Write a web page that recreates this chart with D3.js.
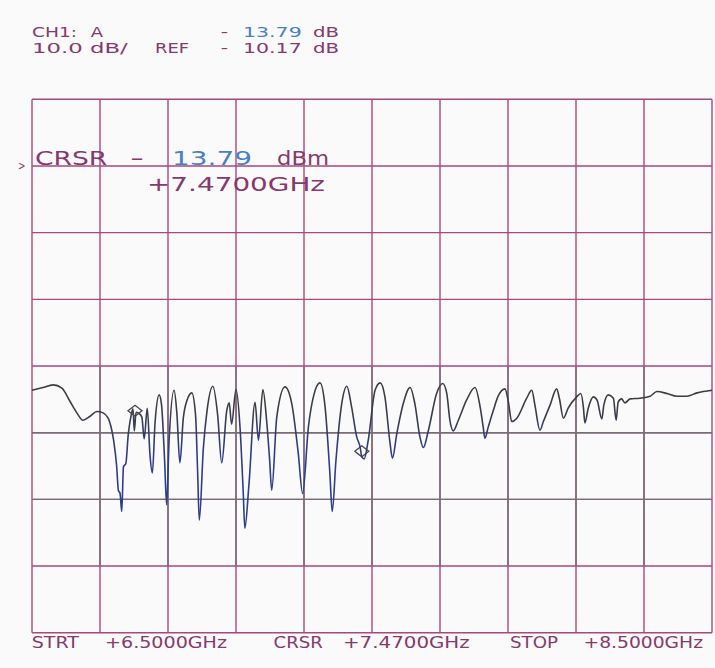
<!DOCTYPE html>
<html>
<head>
<meta charset="utf-8">
<script src="https://cdn.jsdelivr.net/npm/d3@7/dist/d3.min.js"></script>
<style>
  html, body { margin: 0; padding: 0; background: #fbfafb; }
  svg { display: block; }
  text { font-family: "DejaVu Sans", sans-serif; }
</style>
</head>
<body>
<svg id="plot" width="715" height="668"></svg>
<script>
// Sweep settings of channel 1
const startGHz = 6.5;
const stopGHz = 8.5;
const cursorGHz = 7.47;
const cursorDb = -13.79;
const refDb = -10.17;
const dbPerDiv = 10;
const refLineFromTop = 5;   // reference level sits five divisions below the top
const divisionsX = 10;
const divisionsY = 8;

// Measured trace: frequency (GHz) and level (dB)
const freqGHz = [
  6.500, 6.532, 6.562, 6.588, 6.612, 6.632, 6.650, 6.671, 6.691, 6.709,
  6.724, 6.732, 6.740, 6.749, 6.754, 6.759, 6.764, 6.769, 6.776, 6.783,
  6.790, 6.797, 6.801, 6.806, 6.812, 6.823, 6.830, 6.839, 6.847, 6.854,
  6.862, 6.874, 6.881, 6.890, 6.896, 6.903, 6.918, 6.926, 6.935, 6.945,
  6.956, 6.970, 6.981, 6.987, 6.992, 7.004, 7.015, 7.032, 7.046, 7.058,
  7.073, 7.080, 7.087, 7.100, 7.112, 7.121, 7.126, 7.138, 7.156, 7.166,
  7.179, 7.190, 7.199, 7.205, 7.220, 7.244, 7.264, 7.283, 7.296, 7.313,
  7.329, 7.347, 7.362, 7.376, 7.383, 7.394, 7.411, 7.426, 7.440, 7.455,
  7.465, 7.470, 7.477, 7.489, 7.509, 7.524, 7.538, 7.553, 7.560, 7.573,
  7.592, 7.612, 7.626, 7.641, 7.651, 7.666, 7.690, 7.708, 7.720, 7.729,
  7.739, 7.754, 7.778, 7.803, 7.818, 7.827, 7.832, 7.842, 7.857, 7.871,
  7.891, 7.901, 7.911, 7.926, 7.955, 7.970, 7.979, 7.994, 8.004, 8.024,
  8.043, 8.051, 8.063, 8.077, 8.102, 8.114, 8.122, 8.126, 8.136, 8.151,
  8.162, 8.176, 8.182, 8.195, 8.210, 8.218, 8.224, 8.234, 8.244, 8.259,
  8.288, 8.318, 8.338, 8.368, 8.397, 8.426, 8.456, 8.500
];
const levelDb = [
  -3.8, -3.4, -3.0, -3.5, -5.5, -7.2, -8.3, -7.7, -7.0, -7.2,
  -8.0, -9.2, -11.3, -15.2, -18.8, -19.3, -22.0, -15.3, -14.8, -10.5,
  -8.0, -6.6, -9.9, -7.1, -7.2, -7.8, -11.1, -6.5, -13.5, -16.2,
  -8.6, -4.5, -6.0, -14.3, -21.0, -11.6, -3.8, -7.2, -14.7, -8.0,
  -5.3, -4.2, -7.5, -15.8, -23.3, -12.5, -6.8, -3.2, -7.5, -14.7,
  -6.8, -5.7, -8.9, -3.7, -9.5, -18.8, -24.5, -18.0, -5.6, -11.3,
  -3.7, -8.3, -14.3, -18.8, -7.8, -3.3, -5.8, -13.2, -19.3, -9.3,
  -4.5, -2.7, -6.3, -16.2, -22.0, -14.3, -5.8, -3.2, -6.3, -10.8,
  -12.3, -13.79, -14.1, -11.3, -3.8, -2.7, -4.8, -11.7, -14.0, -10.3,
  -5.8, -3.4, -5.8, -10.8, -12.4, -9.8, -4.3, -2.8, -4.3, -8.3,
  -9.9, -8.3, -5.3, -3.4, -6.3, -9.3, -11.0, -9.3, -6.8, -4.7,
  -3.6, -5.5, -8.5, -8.0, -5.0, -3.8, -6.0, -9.8, -8.5, -6.0,
  -3.6, -5.0, -8.0, -6.5, -4.8, -4.3, -6.5, -8.7, -6.5, -4.8,
  -5.3, -8.1, -6.0, -4.5, -5.0, -8.3, -5.6, -5.1, -5.7, -5.1,
  -5.0, -4.7, -4.0, -4.3, -4.7, -4.7, -4.2, -3.8
];

// Marker positions on the trace (active cursor and a second marker)
const markerGHz = [7.47, 6.803];
const markerDb = [-13.79, -7.7];

const fmtDb = d3.format(".2f");
const fmtGHz = g => "+" + d3.format(".4f")(g) + "GHz";

const svg = d3.select("#plot");
const plotLeft = 32, plotRight = 712, plotTop = 99.3, plotBottom = 632.7;

const topDb = refDb + refLineFromTop * dbPerDiv;
const bottomDb = topDb - divisionsY * dbPerDiv;

const x = d3.scaleLinear().domain([startGHz, stopGHz]).range([plotLeft, plotRight]);
const y = d3.scaleLinear().domain([bottomDb, topDb]).range([plotBottom, plotTop]);

const gridMagenta = "#a6497c";
const gridGray = "#737076";
const textMagenta = "#86396c";
const textBlue = "#4a7fc3";

const xLines = d3.range(divisionsX + 1).map(i => startGHz + i * (stopGHz - startGHz) / divisionsX);
const yLines = d3.range(divisionsY + 1).map(i => bottomDb + i * dbPerDiv);

const grid = svg.append("g").attr("fill", "none").attr("stroke-width", 1.4);

// vertical graticule lines
grid.selectAll("line.v").data(xLines).join("line")
  .attr("class", "v")
  .attr("x1", d => x(d)).attr("x2", d => x(d))
  .attr("y1", y(topDb)).attr("y2", y(bottomDb))
  .attr("stroke", gridMagenta);

// horizontal graticule lines
grid.selectAll("line.h").data(yLines).join("line")
  .attr("class", "h")
  .attr("x1", x(startGHz)).attr("x2", x(stopGHz))
  .attr("y1", d => y(d)).attr("y2", d => y(d))
  .attr("stroke", gridMagenta);

// the band around the trace is printed in gray
const bandTop = topDb - (refLineFromTop - 1) * dbPerDiv;
const bandBottom = refDb - 2 * dbPerDiv;
grid.selectAll("line.vb").data(xLines.slice(1, -1)).join("line")
  .attr("class", "vb")
  .attr("x1", d => x(d)).attr("x2", d => x(d))
  .attr("y1", y(bandTop) + 0.8).attr("y2", y(bandBottom) - 0.8)
  .attr("stroke", gridGray);
grid.selectAll("line.hb").data([refDb, refDb - dbPerDiv]).join("line")
  .attr("class", "hb")
  .attr("x1", x(startGHz) + 0.8).attr("x2", x(stopGHz) - 0.8)
  .attr("y1", d => y(d)).attr("y2", d => y(d))
  .attr("stroke", gridGray);

// trace colour shifts from dark gray to blue towards the deep notches
const defs = svg.append("defs");
const grad = defs.append("linearGradient")
  .attr("id", "traceInk")
  .attr("gradientUnits", "userSpaceOnUse")
  .attr("x1", 0).attr("x2", 0)
  .attr("y1", y(-6)).attr("y2", y(-14));
grad.append("stop").attr("offset", 0).attr("stop-color", "#3c3c40");
grad.append("stop").attr("offset", 1).attr("stop-color", "#2c3c8e");

const points = freqGHz.map((f, i) => [f, levelDb[i]]);
const line = d3.line()
  .x(d => x(d[0]))
  .y(d => y(d[1]))
  .curve(d3.curveMonotoneX);

svg.append("path")
  .datum(points)
  .attr("d", line)
  .attr("fill", "none")
  .attr("stroke", "url(#traceInk)")
  .attr("stroke-width", 1.6)
  .attr("stroke-linejoin", "round");

// diamond markers, bottom tip on the trace
svg.append("g").selectAll("path").data(markerGHz).join("path")
  .attr("d", (f, i) => {
    const px = x(f), py = y(markerDb[i]);
    return `M${px},${py} L${px + 7},${py - 5.5} L${px},${py - 11} L${px - 7},${py - 5.5} Z`;
  })
  .attr("fill", "none")
  .attr("stroke", "#45454c")
  .attr("stroke-width", 1.3);

// text helper
function label(str, x0, yb, len, size, color) {
  svg.append("text")
    .attr("x", x0).attr("y", yb)
    .attr("font-size", size)
    .attr("fill", color)
    .attr("textLength", len)
    .attr("lengthAdjust", "spacingAndGlyphs")
    .text(str);
}

const sign = v => (v < 0 ? "-" : "+");

// header: channel, scale, reference
label("CH1:", 32, 37.3, 45, 14.5, textMagenta);
label("A", 90.7, 37.3, 12.3, 14.5, textMagenta);
label(sign(cursorDb), 220.7, 37.3, 7.3, 14.5, textMagenta);
label(fmtDb(Math.abs(cursorDb)), 243, 37.3, 58.7, 14.5, textBlue);
label("dB", 313, 37.3, 26, 14.5, textMagenta);

label(d3.format(".1f")(dbPerDiv) + " dB/", 32, 53.3, 95.7, 14.5, textMagenta);
label("REF", 155, 53.3, 34, 14.5, textMagenta);
label(sign(refDb), 220.7, 53.3, 7.3, 14.5, textMagenta);
label(fmtDb(Math.abs(refDb)), 243, 53.3, 58.7, 14.5, textMagenta);
label("dB", 313, 53.3, 26, 14.5, textMagenta);

// reference position pointer
label(">", 18, 170, 7.5, 12, textMagenta);

// cursor readout
label("CRSR", 35, 164.5, 72.3, 20, textMagenta);
label(sign(cursorDb), 130, 164.5, 14, 20, textMagenta);
label(fmtDb(Math.abs(cursorDb)), 172, 164.5, 80, 19, textBlue);
label("dBm", 277, 164.5, 52, 20, textMagenta);
label(fmtGHz(cursorGHz), 147, 190.5, 178, 20, textMagenta);

// sweep annotation below the graticule
label("STRT", 31.7, 647.7, 47.3, 15, textMagenta);
label(fmtGHz(startGHz), 105, 647.7, 122, 15, textMagenta);
label("CRSR", 273.6, 647.7, 49.2, 15, textMagenta);
label(fmtGHz(cursorGHz), 343, 647.7, 126.7, 15, textMagenta);
label("STOP", 510, 647.7, 48, 15, textMagenta);
label(fmtGHz(stopGHz), 583.5, 647.7, 119.5, 15, textMagenta);
</script>
</body>
</html>
